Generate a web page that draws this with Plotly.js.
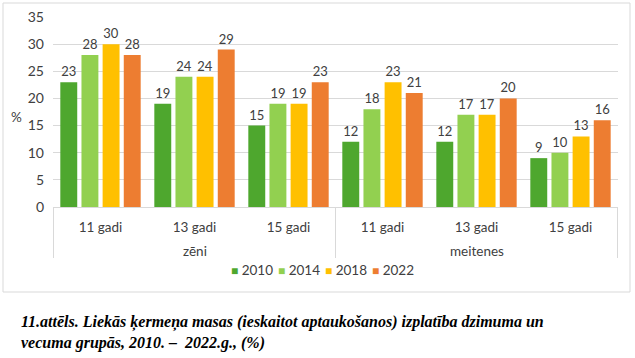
<!DOCTYPE html>
<html><head><meta charset="utf-8">
<script src="https://cdn.plot.ly/plotly-3.0.1.min.js"></script>
<style>html,body{margin:0;padding:0;background:#fff}#chart{width:635px;height:358px}</style>
</head><body><div id="chart"></div>
<script>
const groups = ["zēni","zēni","zēni","meitenes","meitenes","meitenes"];
const ages = ["11 gadi","13 gadi","15 gadi","11 gadi","13 gadi","15 gadi"];
const groupNames = ["zēni","meitenes"];
const years = ["2010","2014","2018","2022"];
const v2010 = [23,19,15,12,12,9];
const v2014 = [28,24,19,18,17,10];
const v2018 = [30,24,19,23,17,13];
const v2022 = [28,29,23,21,20,16];
const colors = ["#4ea72e","#92d050","#ffc000","#ed7d31"];
const caption = "11.attēls. Liekās ķermeņa masas (ieskaitot aptaukošanos) izplatība dzimuma un<br>vecuma grupās, 2010. –  2022.g., (%)";

const font = "Lato, 'Open Sans', sans-serif";
const txt = "#404040";
const keys = groups.map((g, i) => g + " " + ages[i]);
const series = [v2010, v2014, v2018, v2022];
const traces = series.map((vals, i) => ({
  type: "bar",
  name: years[i],
  x: keys,
  y: vals,
  marker: {color: colors[i]},
  text: vals.map(String),
  textposition: "outside",
  cliponaxis: false,
  textfont: {family: font, size: 13, color: txt},
  hoverinfo: "none",
  showlegend: false
}));

const PH = 190, PW = 565;
const py = px => -(px) / PH; // pixels below axis -> paper y
const shapes = [{type: "rect", xref: "paper", yref: "paper",
  x0: -50/PW, x1: 577/PW, y0: py(85), y1: 204/PH,
  line: {color: "#d9d9d9", width: 1}}];
// group dividers
const nPer = 3;
for (let g = 0; g <= groupNames.length; g++) {
  shapes.push({type: "line", xref: "x", yref: "paper",
    x0: g*nPer - 0.5, x1: g*nPer - 0.5, y0: 0, y1: py(51),
    line: {color: "#d9d9d9", width: 1}});
}
const annotations = [];
groupNames.forEach((gName, g) => {
  annotations.push({xref: "x", yref: "paper", x: g*nPer + (nPer-1)/2, y: py(44),
    text: gName, showarrow: false, xanchor: "center", yanchor: "middle",
    font: {family: font, size: 13.5, color: txt}});
});
// legend
years.forEach((yr, i) => {
  annotations.push({xref: "paper", yref: "paper", x: (322 - 53 + (i - 1.5) * 47) / PW, y: py(63),
    text: '<span style="color:' + colors[i] + ';font-size:12px">■</span> ' + yr,
    showarrow: false, xanchor: "center", yanchor: "middle",
    font: {family: font, size: 13.5, color: txt}});
});
annotations.push({xref: "paper", yref: "paper", x: -37/PW, y: 90/PH, text: "%",
  showarrow: false, xanchor: "center", yanchor: "middle",
  font: {family: font, size: 13.5, color: txt}});
annotations.push({xref: "paper", yref: "paper", x: -34/PW, y: py(104),
  xanchor: "left", yanchor: "top", align: "left", showarrow: false,
  text: "<b><i>" + caption + "</i></b>",
  font: {family: "'Liberation Serif', serif", size: 16, color: "#000"}});

const layout = {
  width: 635, height: 358,
  margin: {l: 53, r: 17, t: 17, b: 151},
  paper_bgcolor: "#fff", plot_bgcolor: "#fff",
  barmode: "group", bargap: 0.1, bargroupgap: 0.2,
  showlegend: false,
  xaxis: {type: "category", tickvals: keys, ticktext: ages, showline: true,
    linecolor: "#d9d9d9", linewidth: 1, ticks: "", ticklabelstandoff: 8,
    tickfont: {family: font, size: 13.5, color: txt}},
  yaxis: {range: [0, 35], dtick: 5, showgrid: true, gridcolor: "#d9d9d9", zeroline: false,
    tickfont: {family: font, size: 14, color: txt}, ticks: "", ticklabelstandoff: 8},
  shapes: shapes,
  annotations: annotations
};
Plotly.newPlot("chart", traces, layout, {staticPlot: true});
</script></body></html>
